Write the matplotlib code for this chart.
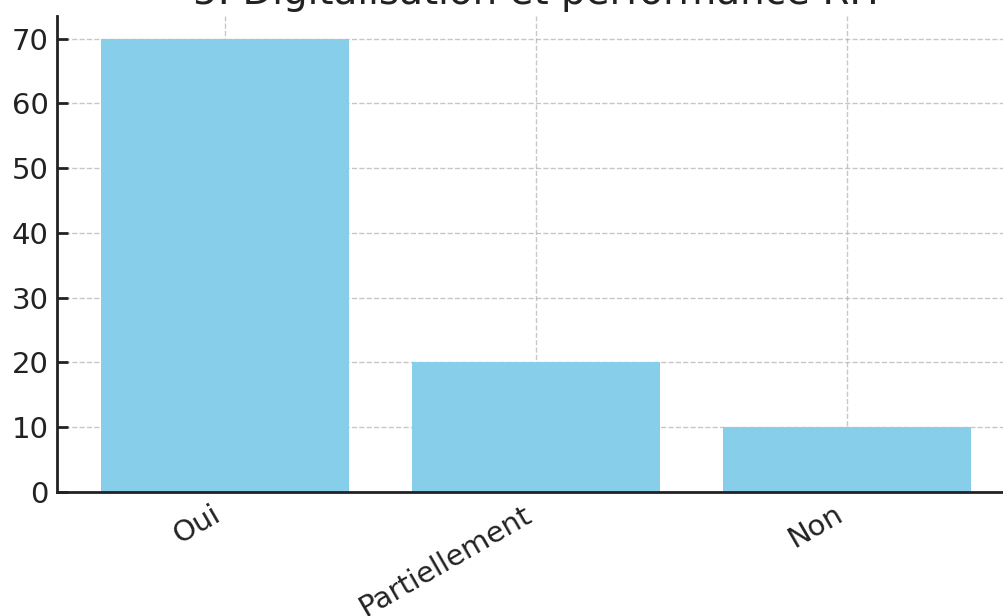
import matplotlib
matplotlib.use("Agg")
import matplotlib.pyplot as plt

categories = ["Oui", "Partiellement", "Non"]
values = [70, 20, 10]
title = "5. Digitalisation et performance RH"

fig = plt.figure(figsize=(10.04, 6.16), dpi=100)
ax = fig.add_axes([57/1004, (616-492)/616, (1015-57)/1004, (492-16)/616])
ax.bar(categories, values, color="#87CEEB", width=0.8, zorder=2)
ax.grid(True, linestyle="--", color="#b0b0b0", alpha=0.7, linewidth=1, zorder=3)
ax.set_ylim(0, 73.5)
ax.set_xlim(-0.54, 2.54)
ax.set_yticks(range(0, 71, 10))
for s in ["top", "right"]:
    ax.spines[s].set_visible(False)
for s in ["left", "bottom"]:
    ax.spines[s].set_linewidth(2)
    ax.spines[s].set_color("#222222")
ax.tick_params(direction="in", length=8, width=2, labelsize=21, colors="#222222", pad=6)
plt.setp(ax.get_xticklabels(), rotation=30, ha="right")
ax.set_title(title, fontsize=28, color="#222222", pad=9)
fig.savefig("out.png", dpi=100)
